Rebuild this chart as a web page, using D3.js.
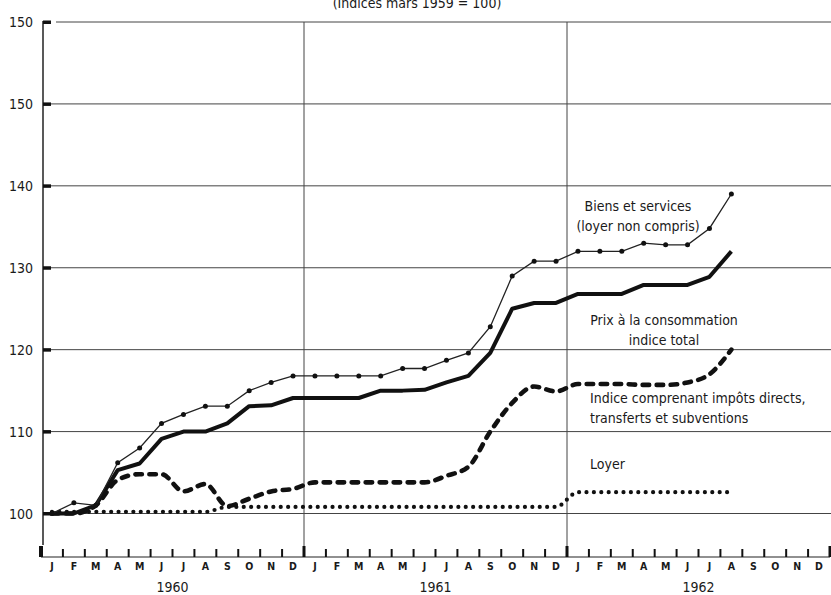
<!DOCTYPE html>
<html>
<head>
<meta charset="utf-8">
<script src="https://cdn.jsdelivr.net/npm/d3@7"></script>
<style>
  body { margin: 0; background: #fff; }
  svg { display: block; }
  text { font-family: "DejaVu Sans Condensed", "Liberation Sans Narrow", "DejaVu Sans", sans-serif; font-stretch: condensed; fill: #1a1a1a; }
</style>
</head>
<body>
<script>
// month letters and years on the x axis
const monthLetters = ["J", "F", "M", "A", "M", "J", "J", "A", "S", "O", "N", "D"];
const years = ["1960", "1961", "1962"];

// y ticks (the printed top label really reads 150)
const yTicks = [100, 110, 120, 130, 140, 150, 160];
const yTickLabels = ["100", "110", "120", "130", "140", "150", "150"];

// monthly values, jan 1960 -> aug 1962
const biens = [
  100, 101.3, 101, 106.2, 108, 111, 112.1, 113.1, 113.1, 115, 116, 116.8,
  116.8, 116.8, 116.8, 116.8, 117.7, 117.7, 118.7, 119.6, 122.8, 129, 130.8, 130.8,
  132, 132, 132, 133, 132.8, 132.8, 134.8, 139
];
const prix = [
  100, 100, 101, 105.3, 106.1, 109.1, 110, 110, 111, 113.1, 113.2, 114.1,
  114.1, 114.1, 114.1, 115, 115, 115.1, 116, 116.8, 119.6, 125, 125.7, 125.7,
  126.8, 126.8, 126.8, 127.9, 127.9, 127.9, 128.9, 132
];
const impots = [
  100, 100, 101, 104.1, 104.8, 104.8, 102.7, 103.6, 100.9, 101.8, 102.7, 103,
  103.8, 103.8, 103.8, 103.8, 103.8, 103.8, 104.6, 105.7, 110, 113.5, 115.5, 114.9,
  115.8, 115.8, 115.8, 115.7, 115.7, 116, 117, 120
];
const loyer = [
  100.2, 100.2, 100.2, 100.2, 100.2, 100.2, 100.2, 100.2, 100.8, 100.8, 100.8, 100.8,
  100.8, 100.8, 100.8, 100.8, 100.8, 100.8, 100.8, 100.8, 100.8, 100.8, 100.8, 100.8,
  102.6, 102.6, 102.6, 102.6, 102.6, 102.6, 102.6, 102.6
];

const labels = [
  { lines: ["Biens et services", "(loyer non compris)"], x: 638, y: 211, anchor: "middle" },
  { lines: ["Prix à la consommation", "indice total"], x: 664, y: 325, anchor: "middle" },
  { lines: ["Indice comprenant impôts directs,", "transferts et subventions"], x: 590, y: 403, anchor: "start" },
  { lines: ["Loyer"], x: 590, y: 469, anchor: "start" }
];

const W = 831, H = 595;
const svg = d3.select("body").append("svg").attr("width", W).attr("height", H);

// x is a month index, 0 = january 1960 (points sit at month centres)
const x = d3.scaleLinear().domain([-0.5, 35.5]).range([41, 830]);
const y = d3.scaleLinear().domain([100, 160]).range([513.5, 22]);

const axisY = 557;

// title, partly cut off at the top of the picture
svg.append("text")
  .attr("x", 417).attr("y", 8)
  .attr("text-anchor", "middle")
  .style("font-size", "14px")
  .text("(Indices mars 1959 = 100)");

// horizontal grid
svg.append("g").selectAll("line").data(yTicks).join("line")
  .attr("x1", d => d === 160 ? 56 : 50).attr("x2", W)
  .attr("y1", d => y(d)).attr("y2", d => y(d))
  .attr("stroke", "#444").attr("stroke-width", 1);

// year separators
svg.append("g").selectAll("line").data([12, 24]).join("line")
  .attr("x1", d => x(d - 0.5)).attr("x2", d => x(d - 0.5))
  .attr("y1", y(160)).attr("y2", axisY - 8)
  .attr("stroke", "#444").attr("stroke-width", 1);

// y axis line and ticks
svg.append("line")
  .attr("x1", 43).attr("x2", 43).attr("y1", y(160) - 1).attr("y2", axisY - 12)
  .attr("stroke", "#222").attr("stroke-width", 1.5);
svg.append("g").selectAll("rect").data(yTicks).join("rect")
  .attr("x", 43).attr("y", d => y(d) - 1.5).attr("width", 8).attr("height", 3.5)
  .attr("fill", "#111");
svg.append("g").selectAll("text").data(yTicks).join("text")
  .attr("x", 33).attr("y", d => y(d) + 5)
  .attr("text-anchor", "end")
  .style("font-size", "14px")
  .text((d, i) => yTickLabels[i]);

// x axis: baseline, month ticks, letters, years
svg.append("line")
  .attr("x1", x(-0.5)).attr("x2", x(35.5)).attr("y1", axisY).attr("y2", axisY)
  .attr("stroke", "#222").attr("stroke-width", 1.2);
const bounds = d3.range(0, 37);
svg.append("g").selectAll("line").data(bounds).join("line")
  .attr("x1", d => x(d - 0.5)).attr("x2", d => x(d - 0.5))
  .attr("y1", d => d % 12 === 0 ? axisY - 11 : axisY - 8).attr("y2", axisY)
  .attr("stroke", "#111")
  .attr("stroke-width", d => d === 0 ? 4 : d % 12 === 0 ? 3 : 2);

const allMonths = d3.range(0, 36);
svg.append("g").selectAll("text").data(allMonths).join("text")
  .attr("x", d => x(d)).attr("y", axisY + 13)
  .attr("text-anchor", "middle")
  .style("font-size", "10.5px").style("font-weight", "bold")
  .text(d => monthLetters[d % 12]);
svg.append("g").selectAll("text").data(years).join("text")
  .attr("x", (d, i) => x(i * 12 + 5.5)).attr("y", axisY + 35)
  .attr("text-anchor", "middle")
  .style("font-size", "14px")
  .text(d => d);

// series
const straight = d3.line().x((d, i) => x(i)).y(d => y(d));
const smooth = d3.line().x((d, i) => x(i)).y(d => y(d)).curve(d3.curveMonotoneX);

svg.append("path").datum(loyer)
  .attr("d", smooth).attr("fill", "none")
  .attr("stroke", "#111").attr("stroke-width", 4.2)
  .attr("stroke-linecap", "round").attr("stroke-dasharray", "0 7.4");

svg.append("path").datum(impots)
  .attr("d", smooth).attr("fill", "none")
  .attr("stroke", "#111").attr("stroke-width", 4.6)
  .attr("stroke-linecap", "round").attr("stroke-dasharray", "6.5 7.5");

svg.append("path").datum(prix)
  .attr("d", straight).attr("fill", "none")
  .attr("stroke", "#111").attr("stroke-width", 4)
  .attr("stroke-linejoin", "round");

svg.append("path").datum(biens)
  .attr("d", straight).attr("fill", "none")
  .attr("stroke", "#222").attr("stroke-width", 1.3);
svg.append("g").selectAll("circle").data(biens).join("circle")
  .attr("cx", (d, i) => x(i)).attr("cy", d => y(d)).attr("r", 2.5)
  .attr("fill", "#111");

// series labels
labels.forEach(l => {
  const t = svg.append("text")
    .attr("text-anchor", l.anchor)
    .style("font-size", "14px");
  l.lines.forEach((s, i) => {
    t.append("tspan").attr("x", l.x).attr("y", l.y + i * 20).text(s);
  });
});
</script>
</body>
</html>
